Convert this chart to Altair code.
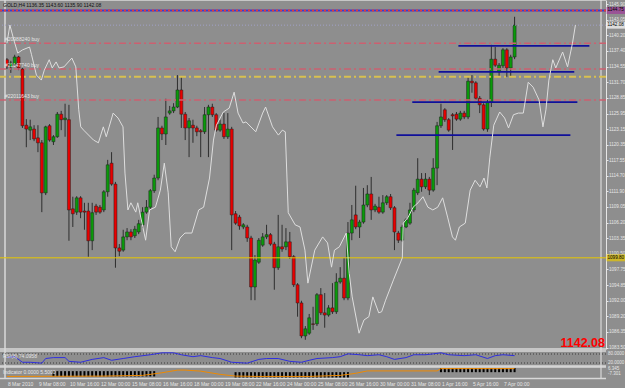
import altair as alt
import pandas as pd

# ---------------- data ----------------
bar_i = list(range(132))
opens = [1135.8,1134.5,1135.0,1136.3,1134.1,1123.9,1123.0,1123.2,1121.6,1120.7,
         1111.6,1123.8,1120.9,1121.8,1125.9,1124.9,1124.9,1108.7,1108.1,1110.7,
         1108.3,1108.3,1102.9,1109.2,1109.0,1108.5,1111.8,1117.0,1113.2,1101.6,
         1101.2,1103.6,1104.5,1103.8,1104.5,1105.8,1108.1,1109.0,1112.0,1114.3,
         1123.4,1122.3,1126.1,1126.5,1127.2,1130.3,1125.9,1123.4,1123.9,1123.4,
         1122.9,1122.7,1125.8,1127.2,1125.8,1123.0,1124.1,1121.8,1123.2,1107.8,
         1107.2,1105.4,1105.4,1103.4,1094.5,1099.0,1102.1,1103.6,1104.0,1102.3,
         1098.0,1101.8,1101.8,1102.7,1100.0,1094.9,1091.6,1085.6,1086.1,1087.8,
         1087.8,1093.1,1089.8,1089.4,1090.7,1090.0,1095.4,1096.1,1092.5,1104.3,
         1107.6,1105.4,1106.3,1109.4,1111.4,1108.5,1109.0,1108.1,1109.8,1110.9,
         1108.9,1104.3,1103.0,1105.4,1106.1,1108.5,1111.6,1114.1,1112.7,1114.1,
         1112.1,1116.1,1123.8,1126.7,1124.9,1125.8,1125.9,1125.0,1126.1,1125.4,
         1131.9,1131.6,1128.8,1127.6,1123.2,1128.1,1135.9,1133.6,1134.7,1137.6,
         1134.3,1136.3]
highs = [1136.1,1135.6,1136.7,1136.5,1134.3,1125.0,1124.9,1123.9,1123.9,1121.2,
         1123.8,1124.1,1122.1,1126.3,1126.5,1127.8,1127.6,1110.9,1111.0,1111.0,
         1109.8,1109.8,1109.8,1109.6,1109.4,1112.1,1117.6,1119.0,1113.6,1102.3,
         1104.9,1105.2,1105.0,1105.6,1106.7,1109.0,1110.3,1112.3,1114.9,1125.4,
         1123.8,1128.7,1127.4,1127.9,1133.0,1132.8,1126.3,1125.2,1124.9,1123.8,
         1123.2,1127.2,1127.6,1127.8,1126.1,1124.9,1126.1,1126.1,1123.6,1108.3,
         1107.6,1106.1,1105.8,1103.8,1100.3,1103.4,1104.3,1105.8,1104.3,1102.7,
         1107.6,1105.8,1105.2,1104.5,1100.3,1095.2,1092.0,1087.4,1089.6,1090.9,
         1093.4,1094.3,1093.4,1091.2,1095.2,1097.0,1098.1,1099.8,1106.3,1109.4,
         1112.9,1106.7,1112.5,1113.0,1114.5,1109.6,1110.9,1111.2,1111.2,1111.4,
         1109.2,1104.7,1105.8,1107.0,1109.8,1112.5,1117.9,1115.2,1115.2,1114.5,
         1117.9,1124.5,1127.8,1127.0,1125.2,1126.1,1126.3,1126.5,1126.5,1132.7,
         1133.0,1131.9,1129.2,1127.9,1128.5,1138.5,1138.1,1135.2,1137.9,1137.9,
         1136.7,1143.6]
lows = [1134.1,1133.4,1134.7,1133.9,1123.4,1119.9,1121.2,1121.0,1119.0,1108.1,
        1111.2,1120.9,1120.3,1121.6,1123.0,1121.8,1102.9,1105.4,1107.6,1107.0,
        1104.9,1100.0,1101.2,1107.6,1107.8,1108.1,1110.9,1112.9,1098.0,1100.1,
        1100.9,1103.0,1103.0,1103.4,1104.1,1105.2,1107.8,1108.7,1111.6,1113.9,
        1121.2,1120.3,1125.8,1126.1,1127.0,1123.4,1121.2,1118.1,1120.7,1121.9,
        1118.1,1122.3,1118.1,1125.4,1122.7,1122.7,1121.4,1121.4,1101.2,1105.8,
        1104.9,1105.0,1102.7,1092.1,1092.1,1098.7,1101.8,1103.2,1102.0,1094.0,
        1097.6,1100.9,1101.2,1099.6,1094.5,1089.1,1085.2,1084.9,1085.8,1086.7,
        1087.4,1089.4,1087.1,1089.1,1089.6,1089.6,1095.1,1092.1,1092.1,1103.0,
        1105.0,1103.4,1106.0,1109.0,1106.7,1108.1,1107.8,1107.8,1109.4,1108.5,
        1101.2,1102.5,1102.7,1105.2,1105.8,1108.1,1111.2,1111.8,1112.3,1111.2,
        1111.8,1113.0,1123.4,1124.5,1122.7,1119.4,1124.7,1124.7,1125.0,1125.0,
        1129.8,1128.5,1126.1,1122.9,1122.7,1127.2,1134.5,1132.7,1134.3,1132.7,
        1132.7,1135.9]
closes = [1134.5,1135.2,1136.3,1134.3,1123.8,1123.2,1123.6,1121.4,1120.7,1111.6,
          1123.6,1121.2,1121.8,1125.9,1124.9,1125.2,1108.5,1107.8,1110.7,1108.1,
          1108.1,1102.9,1108.0,1108.1,1108.1,1111.8,1116.7,1113.2,1101.6,1101.0,
          1103.6,1104.5,1103.6,1105.0,1106.0,1108.1,1109.0,1112.0,1114.3,1123.4,
          1122.3,1125.4,1126.5,1127.2,1130.3,1125.9,1123.4,1124.7,1123.4,1122.7,
          1122.7,1125.8,1127.2,1125.8,1123.0,1124.1,1121.8,1123.2,1107.6,1106.1,
          1105.6,1105.8,1103.4,1094.5,1099.4,1103.0,1103.6,1104.0,1102.3,1098.0,
          1101.8,1101.4,1102.7,1100.0,1094.9,1091.6,1085.6,1086.9,1088.9,1087.7,
          1093.1,1089.8,1089.4,1090.7,1090.0,1095.4,1096.1,1092.5,1104.3,1106.7,
          1105.4,1106.3,1109.4,1111.4,1108.5,1109.2,1108.1,1109.8,1110.9,1108.9,
          1104.5,1103.0,1105.4,1106.7,1108.5,1112.1,1114.1,1112.7,1114.1,1112.1,
          1116.1,1123.8,1125.4,1124.9,1123.0,1125.6,1125.0,1126.1,1125.4,1131.9,
          1131.6,1128.8,1127.6,1123.2,1128.1,1135.9,1134.8,1134.8,1137.6,1134.3,
          1136.3,1142.08]

# overlay (white) line: (bar position, price)
overlay_pts = [
    (0, 1138.8), (0.76, 1142.1), (1.78, 1139.4), (2.79, 1137.0), (4.06, 1137.6),
    (5.84, 1138.1), (6.35, 1136.7), (7.61, 1133.0), (8.88, 1132.1), (9.64, 1133.9),
    (10.91, 1135.8), (11.68, 1134.3), (12.69, 1135.4), (13.45, 1134.3), (14.72, 1134.5),
    (16.75, 1136.1), (17.77, 1134.5), (18.53, 1126.7), (19.04, 1123.6), (19.80, 1123.0),
    (22.34, 1121.2), (23.60, 1120.7), (24.87, 1123.6), (25.63, 1121.8), (27.41, 1126.1),
    (28.68, 1125.2), (29.95, 1123.6), (30.46, 1115.2), (31.22, 1108.5), (31.98, 1109.8),
    (33.25, 1108.1), (33.76, 1109.8), (34.52, 1107.2), (35.79, 1103.0), (36.80, 1108.5),
    (38.32, 1109.0), (39.59, 1112.1), (40.61, 1117.0), (41.62, 1111.6), (42.39, 1101.8),
    (43.40, 1100.9), (44.67, 1103.4), (45.94, 1104.3), (47.72, 1104.3), (49.49, 1108.5),
    (50.76, 1109.0), (52.28, 1114.3), (53.30, 1121.2), (54.06, 1123.9), (55.84, 1126.3),
    (57.36, 1127.0), (58.63, 1129.9), (59.64, 1126.1), (60.91, 1124.3), (61.68, 1124.5),
    (64.21, 1122.7), (65.99, 1126.1), (66.75, 1127.2), (68.53, 1123.6), (70.05, 1122.1),
    (71.07, 1123.0), (71.83, 1122.7), (72.59, 1108.0), (74.37, 1105.8), (75.63, 1105.4),
    (76.90, 1101.2), (77.66, 1095.2), (79.44, 1101.2), (81.47, 1103.6), (82.74, 1102.5),
    (83.76, 1098.1), (84.52, 1101.2), (85.79, 1101.8), (87.56, 1104.3), (88.32, 1097.0),
    (89.09, 1092.7), (90.86, 1086.1), (92.13, 1088.5), (93.40, 1089.1), (94.42, 1092.7),
    (95.94, 1089.8), (96.70, 1090.0), (97.72, 1092.1), (99.75, 1095.8), (102.03, 1099.8),
    (102.28, 1106.1), (103.55, 1107.2), (104.82, 1109.0), (106.09, 1109.8), (107.36, 1110.9),
    (108.63, 1109.0), (109.90, 1108.5), (111.17, 1109.0), (112.44, 1110.7), (113.71, 1107.2),
    (114.97, 1103.6), (115.74, 1103.0), (116.75, 1105.4), (118.27, 1106.1), (119.54, 1112.1),
    (120.81, 1113.9), (122.08, 1112.7), (123.10, 1114.3), (123.86, 1112.5), (124.62, 1118.1),
    (125.63, 1123.9), (127.16, 1126.3), (128.43, 1125.2), (129.44, 1123.4), (130.71, 1125.8),
    (131.98, 1126.1), (133.25, 1126.1), (134.52, 1131.7), (135.79, 1130.8), (137.31, 1128.5),
    (138.32, 1123.6), (139.09, 1126.7), (139.85, 1132.1), (140.86, 1135.8), (141.62, 1134.3),
    (143.40, 1137.2), (144.67, 1134.5), (145.94, 1138.8), (146.70, 1142.1),
]

# horizontal levels
dashdot_red = [1138.8, 1134.1, 1128.5]
order_labels = ["#20988240 buy", "#21147740 buy", "#22011643 buy"]
dashdot_yellow = [1132.7]
solid_yellow = [1099.8]
top_line = [1144.75]
bid_line = [1142.08]
seg_price = [1138.3, 1133.6, 1128.1, 1122.1]
seg_start = [116.5, 111.4, 104.6, 100.5]
seg_end = [150.3, 146.4, 147.2, 145.4]

# indicator panel 1 (blue line): (bar, value)
ind1_pts = [
    (0, 56), (2, 62), (4, 25), (6, 25), (9, 19), (10, 50), (12, 56), (15, 56), (16, 31),
    (19, 25), (22, 44), (25, 56), (27, 38), (30, 50), (33, 62), (37, 75), (40, 88), (43, 88),
    (45, 75), (48, 62), (50, 69), (53, 56), (55, 50), (58, 25), (62, 19), (65, 44), (67, 50),
    (70, 50), (73, 31), (76, 25), (78, 38), (80, 50), (84, 56), (86, 62), (88, 81), (91, 75),
    (93, 69), (96, 75), (98, 62), (100, 44), (103, 56), (105, 75), (108, 75), (110, 81),
    (112, 88), (114, 75), (118, 69), (121, 75), (124, 50), (126, 69), (128, 75), (131, 69),
]
ind1_levels = [80, 20]
ind1_level_labels = ["80.0000", "20.0000"]

# indicator panel 2 histogram: (bar, low, high)
hist_bars = [
    (12, 1.8, 6.4), (13, 1.8, 6.4), (14, 1.8, 6.4), (15, 1.8, 6.4), (16, 1.8, 6.4),
    (17, 1.8, 6.4), (18, 1.8, 6.4), (19, 1.8, 6.4), (20, 1.8, 6.4), (21, 1.8, 6.4),
    (22, 1.8, 6.4), (23, 1.8, 6.4), (24, 1.8, 6.4), (25, 1.8, 6.4), (26, 1.8, 6.4),
    (27, 1.8, 6.4), (28, 1.8, 6.4), (29, 1.8, 6.4), (30, 1.8, 6.4), (31, 1.8, 6.4),
    (32, 1.8, 6.4), (33, 1.8, 6.4), (34, 1.8, 6.4), (35, 1.8, 6.4), (36, 1.8, 6.4),
    (37, 1.8, 6.4), (38, 1.8, 6.4),
    (59, 0.9, 5.5), (60, 0.9, 5.5), (61, 0.9, 5.5), (62, 0.9, 5.5), (63, 0.9, 5.5),
    (64, 0.9, 5.5), (65, 0.9, 5.5), (66, 0.9, 5.5), (67, 0.9, 5.5), (68, 0.9, 5.5),
    (69, 0.9, 5.5), (70, 0.9, 5.5), (71, 0.9, 5.5), (72, 0.9, 5.5), (73, 0.9, 5.5),
    (74, 0.9, 5.5), (75, 0.9, 5.5), (76, 0.9, 5.5), (77, 0.9, 5.5), (78, 0.9, 5.5),
    (79, 0.9, 5.5), (80, 0.9, 5.5), (81, 0.9, 5.5), (82, 0.9, 5.5), (83, 0.9, 5.5),
    (84, 0.9, 5.5), (85, 0.9, 5.5), (86, 0.9, 5.5), (87, 0.9, 5.5), (88, 0.9, 5.5),
    (112, 5.5, 9.1), (113, 5.5, 9.1), (114, 5.5, 9.1), (115, 5.5, 9.1), (116, 5.5, 9.1),
    (117, 5.5, 9.1), (118, 5.5, 9.1), (119, 5.5, 9.1), (120, 5.5, 9.1), (121, 5.5, 9.1),
    (122, 5.5, 9.1), (123, 5.5, 9.1), (124, 5.5, 9.1), (125, 5.5, 9.1), (126, 5.5, 9.1),
    (127, 5.5, 9.1), (128, 5.5, 9.1), (129, 5.5, 9.1), (130, 5.5, 9.1), (131, 5.5, 9.1),
]
orange_pts = [(0, 1.8), (25, 2.1), (35, 2.7), (40, 5.0), (44, 7.3), (46, 7.3), (50, 6.4),
              (55, 3.6), (59, 2.1), (65, 1.8), (78, 1.8), (86, 2.7), (90, 4.5), (93, 6.6),
              (111, 6.6), (112, 8.6), (131, 8.6)]
ind2_labels = [(8.2, "6.345"), (3.5, "-7.301")]

y_ticks = [1083.50,1086.35,1089.20,1092.00,1094.85,1097.75,1100.50,1103.35,1106.20,
           1109.05,1111.90,1114.70,1117.55,1120.35,1123.15,1125.95,1128.85,1131.70,
           1134.55,1137.40,1140.20,1143.05,1145.90]
x_tick_bars = [0,8,16,24,32,40,48,56,64,72,80,88,96,104,112,120,128]
x_labels = ["8 Mar 2010","9 Mar 08:00","10 Mar 16:00","12 Mar 00:00","15 Mar 08:00",
            "16 Mar 16:00","18 Mar 00:00","19 Mar 08:00","22 Mar 16:00","24 Mar 00:00",
            "25 Mar 08:00","26 Mar 16:00","30 Mar 00:00","31 Mar 08:00","1 Apr 16:00",
            "5 Apr 16:00","7 Apr 00:00"]

title_text = "GOLD,H4  1136.35 1143.60 1135.90 1142.08"
big_price = "1142.08"
ind1_title = "RSI(8) 74.0958"
ind2_title = "Indicator 0.0000 5.5000"

# ---------------- styling ----------------
BG = "#8e8e8e"
LIGHT = "#e6e6e6"
FONT = "Liberation Sans"
GREEN = "#0a9a0a"
RED = "#e80000"

X = alt.Scale(domain=[-0.5, 153.3], nice=False, zero=False)
YM = alt.Scale(domain=[1083.23, 1146.65], range=[349, 0], nice=False, zero=False)
Y1 = alt.Scale(domain=[0, 100], range=[366, 351], nice=False, zero=False)
Y2 = alt.Scale(domain=[0, 10], range=[378.5, 367], nice=False, zero=False)

x_axis = alt.Axis(values=x_tick_bars, labels=False, orient="bottom", tickColor=LIGHT,
                  domainColor=LIGHT, tickSize=2, title=None, grid=False)
y_axis = alt.Axis(values=y_ticks, format=".2f", orient="right", labelFontSize=4.6,
                  labelColor=LIGHT, labelFont=FONT, tickColor=LIGHT, domainColor=LIGHT,
                  tickSize=2, labelPadding=0.5, title=None, grid=False, labelFlush=False,
                  labelOverlap=False)

candles = pd.DataFrame({"i": bar_i, "open": opens, "high": highs, "low": lows, "close": closes})
candles["dir"] = ["up" if c >= o else "down" for o, c in zip(opens, closes)]

wicks = alt.Chart(candles).mark_rule(color="#2e2e2e", strokeWidth=1).encode(
    x=alt.X("i:Q", scale=X, axis=x_axis),
    y=alt.Y("low:Q", scale=YM, axis=y_axis),
    y2="high:Q",
)
bodies = alt.Chart(candles).mark_bar(size=3, stroke="#1e1e1e", strokeWidth=0.5).encode(
    x=alt.X("i:Q", scale=X, axis=None),
    y=alt.Y("open:Q", scale=YM, axis=None),
    y2="close:Q",
    color=alt.Color("dir:N", scale=alt.Scale(domain=["up", "down"], range=[GREEN, RED]), legend=None),
)

overlay = alt.Chart(pd.DataFrame(overlay_pts, columns=["i", "p"])).mark_line(
    color="#dedede", strokeWidth=1).encode(
    x=alt.X("i:Q", scale=X, axis=None), y=alt.Y("p:Q", scale=YM, axis=None))

red_levels = alt.Chart(pd.DataFrame({"p": dashdot_red, "t": order_labels})).mark_rule(
    color="#cc6070", strokeWidth=1.5, strokeDash=[7, 3, 2, 3]).encode(
    y=alt.Y("p:Q", scale=YM, axis=None))
red_labels = alt.Chart(pd.DataFrame({"p": dashdot_red, "t": order_labels})).mark_text(
    align="left", baseline="bottom", dy=-1, fontSize=5, font=FONT, color=LIGHT).encode(
    x=alt.value(5), y=alt.Y("p:Q", scale=YM, axis=None), text="t:N")
yellow_dd = alt.Chart(pd.DataFrame({"p": dashdot_yellow})).mark_rule(
    color="#d8c050", strokeWidth=2, strokeDash=[7, 3, 2, 3]).encode(
    y=alt.Y("p:Q", scale=YM, axis=None))
yellow_solid = alt.Chart(pd.DataFrame({"p": solid_yellow})).mark_rule(
    color="#e8c800", strokeWidth=1).encode(y=alt.Y("p:Q", scale=YM, axis=None))
top_blue = alt.Chart(pd.DataFrame({"p": top_line})).mark_rule(
    color="#3a3ad0", strokeWidth=2).encode(y=alt.Y("p:Q", scale=YM, axis=None))
top_red = alt.Chart(pd.DataFrame({"p": top_line})).mark_rule(
    color="#e03a3a", strokeWidth=2, strokeDash=[2, 2]).encode(y=alt.Y("p:Q", scale=YM, axis=None))
bid = alt.Chart(pd.DataFrame({"p": bid_line})).mark_rule(
    color="#a0a0c8", strokeWidth=1, strokeDash=[1, 2]).encode(y=alt.Y("p:Q", scale=YM, axis=None))
segs = alt.Chart(pd.DataFrame({"p": seg_price, "a": seg_start, "b": seg_end})).mark_rule(
    color="#10109a", strokeWidth=1.8).encode(
    x=alt.X("a:Q", scale=X, axis=None), x2="b:Q", y=alt.Y("p:Q", scale=YM, axis=None))

# frame
frame_main = alt.Chart(pd.DataFrame({"p": [1146.65, 1083.23]})).mark_rule(
    color="#d8d8d8", strokeWidth=1.5).encode(y=alt.Y("p:Q", scale=YM, axis=None))
frame_left = alt.Chart(pd.DataFrame({"i": [-0.5]})).mark_rule(
    color="#d8d8d8", strokeWidth=1.5).encode(x=alt.X("i:Q", scale=X, axis=None))
frame_right = alt.Chart(pd.DataFrame({"i": [153.3]})).mark_rule(
    color=LIGHT, strokeWidth=1).encode(x=alt.X("i:Q", scale=X, axis=None))

# axis boxes
boxes = pd.DataFrame({"p": [1144.75, 1142.08, 1099.8],
                      "t": ["1144.75", "1142.08", "1099.80"],
                      "c": ["box_top", "box_bid", "box_line"]})
box_marks = alt.Chart(boxes).mark_tick(orient="horizontal", size=19, thickness=7).encode(
    x=alt.value(616), y=alt.Y("p:Q", scale=YM, axis=None),
    color=alt.Color("c:N", scale=alt.Scale(domain=["box_top", "box_bid", "box_line"],
                                           range=["#a03a9a", "#ffffff", "#e8c800"]), legend=None))
box_text = alt.Chart(boxes).mark_text(align="left", baseline="middle", fontSize=4.6, font=FONT,
                                      color="#000000").encode(
    x=alt.value(607.5), y=alt.Y("p:Q", scale=YM, axis=None), text="t:N")

title = alt.Chart(pd.DataFrame({"t": [title_text]})).mark_text(
    align="left", baseline="top", fontSize=5, font=FONT, color="#101010").encode(
    x=alt.value(3), y=alt.value(3), text="t:N")
big = alt.Chart(pd.DataFrame({"t": [big_price]})).mark_text(
    align="right", baseline="alphabetic", fontSize=12.5, fontWeight="bold", font=FONT,
    color="#ff0000").encode(x=alt.value(605), y=alt.value(347), text="t:N")

# x labels (date/time under each tick)
xlab = alt.Chart(pd.DataFrame({"i": x_tick_bars, "t": x_labels})).mark_text(
    align="left", baseline="middle", dx=1, fontSize=5, font=FONT, color=LIGHT).encode(
    x=alt.X("i:Q", scale=X, axis=None), y=alt.value(384), text="t:N")

# panel 1
p1_frame = alt.Chart(pd.DataFrame({"v": [0, 100]})).mark_rule(color="#d8d8d8", strokeWidth=1.5).encode(
    y=alt.Y("v:Q", scale=Y1, axis=None))
p1_levels = alt.Chart(pd.DataFrame({"v": ind1_levels, "t": ind1_level_labels})).mark_rule(
    color="#3a3a3a", strokeWidth=1, strokeDash=[1, 2]).encode(y=alt.Y("v:Q", scale=Y1, axis=None))
p1_level_text = alt.Chart(pd.DataFrame({"v": ind1_levels, "t": ind1_level_labels})).mark_text(
    align="left", baseline="middle", fontSize=4.5, font=FONT, color=LIGHT).encode(
    x=alt.value(608), y=alt.Y("v:Q", scale=Y1, axis=None), text="t:N")
p1_line = alt.Chart(pd.DataFrame(ind1_pts, columns=["i", "v"])).mark_line(
    color="#3030e0", strokeWidth=1).encode(
    x=alt.X("i:Q", scale=X, axis=None), y=alt.Y("v:Q", scale=Y1, axis=None))
p1_title = alt.Chart(pd.DataFrame({"t": [ind1_title]})).mark_text(
    align="left", baseline="middle", fontSize=5, font=FONT, color=LIGHT).encode(
    x=alt.value(3), y=alt.value(356), text="t:N")

# panel 2
p2_frame = alt.Chart(pd.DataFrame({"v": [0, 10]})).mark_rule(color="#d8d8d8", strokeWidth=1.5).encode(
    y=alt.Y("v:Q", scale=Y2, axis=None))
p2_hist = alt.Chart(pd.DataFrame(hist_bars, columns=["i", "lo", "hi"])).mark_bar(
    size=2, color="#000000").encode(
    x=alt.X("i:Q", scale=X, axis=None), y=alt.Y("lo:Q", scale=Y2, axis=None), y2="hi:Q")
p2_line = alt.Chart(pd.DataFrame(orange_pts, columns=["i", "v"])).mark_line(
    color="#f08a00", strokeWidth=1).encode(
    x=alt.X("i:Q", scale=X, axis=None), y=alt.Y("v:Q", scale=Y2, axis=None))
p2_title = alt.Chart(pd.DataFrame({"t": [ind2_title]})).mark_text(
    align="left", baseline="middle", fontSize=5, font=FONT, color=LIGHT).encode(
    x=alt.value(3), y=alt.value(372), text="t:N")
p2_side = alt.Chart(pd.DataFrame(ind2_labels, columns=["v", "t"])).mark_text(
    align="left", baseline="middle", fontSize=4.5, font=FONT, color=LIGHT).encode(
    x=alt.value(608), y=alt.Y("v:Q", scale=Y2, axis=None), text="t:N")

chart = alt.layer(
    wicks, bodies, frame_main, frame_left, frame_right,
    red_levels, yellow_dd, yellow_solid, top_blue, top_red, bid, segs, overlay,
    red_labels, box_marks, box_text, title, big, xlab,
    p1_frame, p1_levels, p1_level_text, p1_line, p1_title,
    p2_frame, p2_hist, p2_line, p2_title, p2_side,
).resolve_scale(y="independent", color="independent").properties(
    width=606, height=379,
    autosize=alt.AutoSizeParams(type="none"),
    padding={"left": 0, "top": 0, "right": 19, "bottom": 9},
    background=BG,
).configure_view(stroke=None, fill=BG)

chart.save("out.html", embed_options={"renderer": "svg", "actions": False})
